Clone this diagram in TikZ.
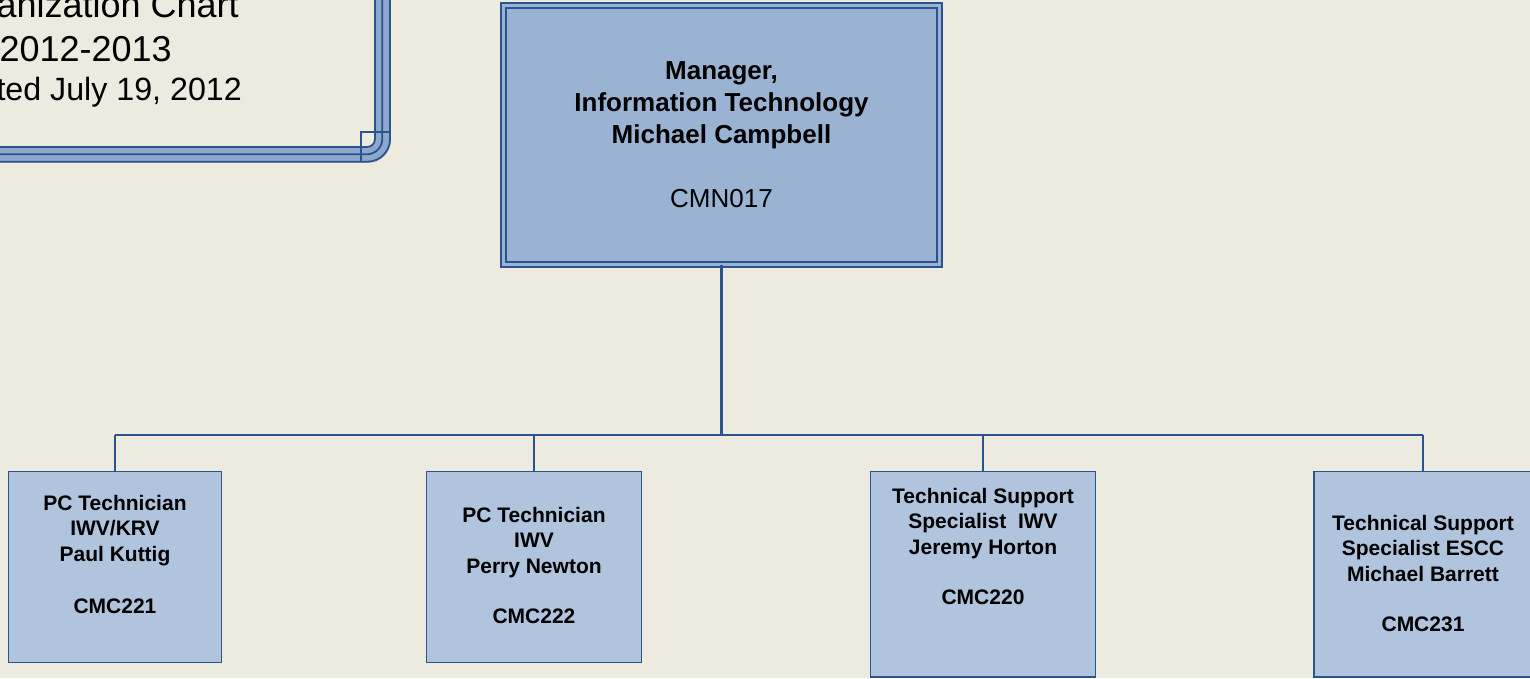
\documentclass[tikz,border=0pt]{standalone}
\usepackage{fontspec}
\setmainfont{Liberation Sans}
\definecolor{bg}{RGB}{237,235,224}
\definecolor{navy}{RGB}{44,84,140}
\definecolor{mgrfill}{RGB}{154,179,211}
\definecolor{boxfill}{RGB}{176,196,222}
\definecolor{band}{RGB}{140,168,206}
\begin{document}
\begin{tikzpicture}[x=1pt,y=-1pt,
 mgrbox/.style={draw=navy, line width=1.7pt, double=mgrfill, double distance=3.3pt, fill=mgrfill, minimum width=436pt, minimum height=259pt, inner sep=0pt},
 staffbox/.style={draw=navy, line width=1.7pt, fill=boxfill, inner sep=0pt},
 stafftext/.style={align=center, anchor=north, inner sep=0pt, font=\fontsize{21}{25.5}\selectfont\bfseries},
 mgrtext/.style={align=center, anchor=north, inner sep=0pt, font=\fontsize{26}{32}\selectfont},
 titletext/.style={anchor=base east, inner sep=0pt},
 trunk/.style={draw=navy, line width=2.3pt},
 drop/.style={draw=navy, line width=1.7pt},
 frameline/.style={draw=navy, line width=1.8pt}]
\useasboundingbox (0,0) rectangle (1530,678);
\fill[bg] (0,0) rectangle (1530,678);
\begin{scope}
\clip (0,0) rectangle (1530,678);
% title frame
\fill[band, rounded corners=23pt] (-40,-40) -- (390.9,-40) -- (390.9,162.6) -- (-40,162.6) -- cycle;
\fill[bg, rounded corners=8pt] (-40,-40) -- (375,-40) -- (375,147) -- (-40,147) -- cycle;
\draw[frameline, rounded corners=8pt] (375,-20) -- (375,147) -- (-20,147);
\draw[frameline, rounded corners=15.5pt] (382.3,-20) -- (382.3,154.3) -- (-20,154.3);
\draw[frameline, rounded corners=22.5pt] (390,-20) -- (390,161.7) -- (-20,161.7);
\draw[frameline] (390,131.7) -- (360.7,131.7) -- (360.7,161.7);
\node[titletext, font=\fontsize{36}{43}\selectfont] (title1) at (239,17) {Organization Chart};
\node[titletext, font=\fontsize{36}{43}\selectfont] (title2) at (172,61) {2012-2013};
\node[titletext, font=\fontsize{32.2}{38}\selectfont] (title3) at (242,100) {Updated July 19, 2012};
% boxes
\node[mgrbox] (mgr) at (721.5,135) {};
\node[staffbox, minimum width=213pt, minimum height=191pt] (c1) at (115,567) {};
\node[staffbox, minimum width=215pt, minimum height=191pt] (c2) at (534,567) {};
\node[staffbox, minimum width=225pt, minimum height=205.5pt] (c3) at (983,574.25) {};
\node[staffbox, minimum width=218pt, minimum height=205.5pt] (c4) at (1423,574.25) {};
% connectors
\coordinate (bus) at (721.5,435);
\draw[trunk] (mgr.south) -- (bus);
\draw[trunk] (c1.north |- bus) -- (c4.north |- bus);
\draw[drop] (c1.north) -- (c1.north |- bus);
\draw[drop] (c2.north) -- (c2.north |- bus);
\draw[drop] (c3.north) -- (c3.north |- bus);
\draw[drop] (c4.north) -- (c4.north |- bus);
% labels
\node[mgrtext] (mgrlabel) at (721.5,58) {\rule{0pt}{21pt}\textbf{Manager,}\\\textbf{Information Technology}\\\textbf{Michael Campbell}\\[32pt]CMN017};
\node[stafftext] (t1) at (115,494) {\rule{0pt}{16pt}PC Technician\\IWV/KRV\\Paul Kuttig\\[26.5pt]CMC221};
\node[stafftext] (t2) at (534,506) {\rule{0pt}{16pt}PC Technician\\IWV\\Perry Newton\\[24.5pt]CMC222};
\node[stafftext] (t3) at (983,487) {\rule{0pt}{16pt}Technical Support\\Specialist\ \ IWV\\Jeremy Horton\\[25pt]CMC220};
\node[stafftext] (t4) at (1423,514) {\rule{0pt}{16pt}Technical Support\\Specialist ESCC\\Michael Barrett\\[24.5pt]CMC231};
\end{scope}
\end{tikzpicture}
\end{document}
